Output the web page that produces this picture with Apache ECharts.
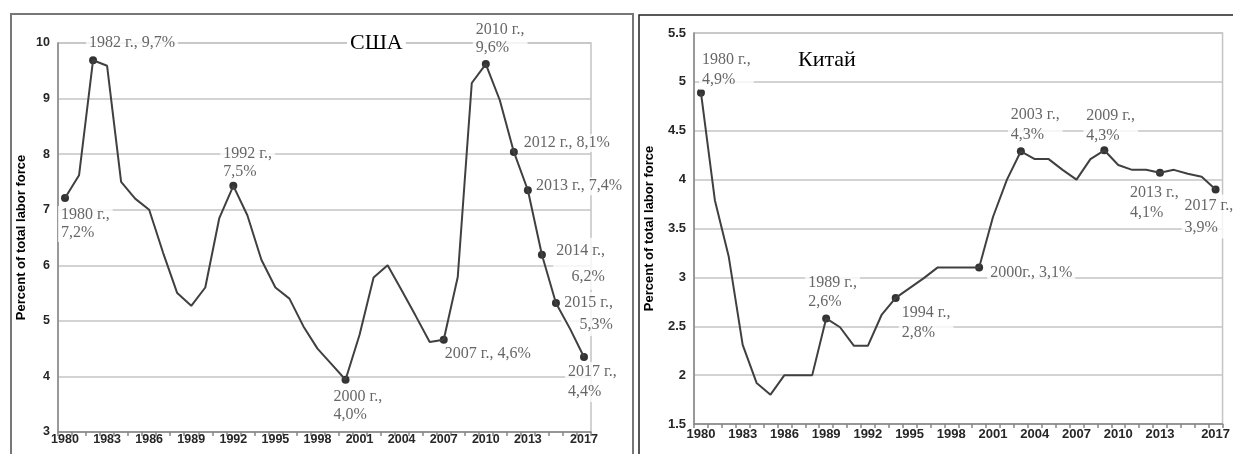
<!DOCTYPE html>
<html>
<head>
<meta charset="utf-8">
<script src="https://cdn.jsdelivr.net/npm/echarts@6/dist/echarts.min.js"></script>
<style>
  html, body { margin: 0; padding: 0; background: #fff; }
  #chart { width: 1233px; height: 454px; }
</style>
</head>
<body>
<div id="chart"></div>
<script>
// годы по оси X
const years = ['1980', '1981', '1982', '1983', '1984', '1985', '1986', '1987', '1988', '1989',
  '1990', '1991', '1992', '1993', '1994', '1995', '1996', '1997', '1998', '1999',
  '2000', '2001', '2002', '2003', '2004', '2005', '2006', '2007', '2008', '2009',
  '2010', '2011', '2012', '2013', '2014', '2015', '2016', '2017'];
// подписи оси X
const shownYears = ['1980', '1983', '1986', '1989', '1992', '1995', '1998', '2001', '2004', '2007', '2010', '2013', '2017'];

// США, % безработных
const usaRate = [7.21, 7.62, 9.69, 9.59, 7.5, 7.2, 7.0, 6.22, 5.5, 5.27,
  5.6, 6.85, 7.43, 6.9, 6.1, 5.6, 5.4, 4.9, 4.5, 4.22,
  3.94, 4.75, 5.78, 6.0, 5.55, 5.09, 4.62, 4.66, 5.79, 9.28,
  9.62, 8.97, 8.04, 7.35, 6.19, 5.32, 4.86, 4.35];
// Китай, % безработных
const chinaRate = [4.89, 3.79, 3.21, 2.31, 1.92, 1.8, 2.0, 2.0, 2.0, 2.58,
  2.49, 2.3, 2.3, 2.62, 2.79, 2.89, 2.99, 3.1, 3.1, 3.1,
  3.1, 3.62, 4.0, 4.29, 4.21, 4.21, 4.1, 4.0, 4.21, 4.3,
  4.15, 4.1, 4.1, 4.07, 4.1, 4.06, 4.03, 3.9];

// отмеченные точки
const usaNoteYears = ['1980', '1982', '1992', '2000', '2007', '2010', '2012', '2013', '2014', '2015', '2017'];
const usaNoteTexts = ['1980 г.,\n7,2%', '1982 г., 9,7%', '1992 г.,\n7,5%', '2000 г.,\n4,0%', '2007 г., 4,6%',
  '2010 г.,\n9,6%', '2012 г., 8,1%', '2013 г., 7,4%', '2014 г.,\n6,2%', '2015 г.,\n5,3%', '2017 г.,\n4,4%'];
const chinaNoteYears = ['1980', '1989', '1994', '2000', '2003', '2009', '2013', '2017'];
const chinaNoteTexts = ['1980 г.,\n4,9%', '1989 г.,\n2,6%', '1994 г.,\n2,8%', '2000г., 3,1%',
  '2003 г.,\n4,3%', '2009 г.,\n4,3%', '2013 г.,\n4,1%', '2017 г.,\n3,9%'];

// смещения подписей: [dx, dy, align, lineHeight]
const usaNotePos = {
  '1980': [-3, 12], '1982': [-3, -22], '1992': [-9, -37], '2000': [-11, 12],
  '2007': [2, 9], '2010': [-9, -39], '2012': [11, -14], '2013': [9, -9],
  '2014': [70, -13, 'right', 26], '2015': [64, -7, 'right', 22], '2017': [-15, 9, 'left', 20]
};
const chinaNotePos = {
  '1980': [2, -39, 'left', 20], '1989': [-17, -41, 'left', 19], '1994': [7, 9, 'left', 20],
  '2000': [12, 0], '2003': [-9, -42, 'left', 20], '2009': [-17, -41, 'left', 20],
  '2013': [-29, 14, 'left', 20], '2017': [-30, 9, 'left', 22]
};

const serif = "'Liberation Serif', 'Times New Roman', serif";
const sans = "'Liberation Sans', Arial, sans-serif";
const axisColor = '#868686';
const gridColor = '#c4c4c4';

function marks(noteYears, noteTexts, rates, layout) {
  return noteYears.map(function (y, i) {
    const idx = years.indexOf(y);
    const p = layout[y];
    return {
      value: [idx, rates[idx]],
      label: {
        show: true,
        formatter: noteTexts[i],
        position: [p[0], p[1]],
        align: p[2] || 'left',
        verticalAlign: 'top',
        lineHeight: p[3] || 18
      }
    };
  });
}

function xAxis(gridIndex, fontSize, margin) {
  return {
    type: 'category',
    gridIndex: gridIndex,
    data: years,
    boundaryGap: true,
    axisLine: { lineStyle: { color: axisColor, width: 1.5 } },
    axisTick: { show: true, interval: 0, length: 4, lineStyle: { color: axisColor, width: 1.5 } },
    axisLabel: {
      interval: function (index) { return shownYears.indexOf(years[index]) !== -1; },
      fontFamily: sans, fontWeight: 'bold', fontSize: fontSize, color: '#262626', margin: margin
    },
    splitLine: { show: false }
  };
}

function yAxis(gridIndex, min, max, step, fontSize, nameGap) {
  return {
    type: 'value',
    gridIndex: gridIndex,
    min: min, max: max, interval: step,
    name: 'Percent of total labor force',
    nameLocation: 'middle',
    nameGap: nameGap,
    nameTextStyle: { fontFamily: sans, fontWeight: 'bold', fontSize: 13, color: '#000' },
    axisLine: { show: true, lineStyle: { color: axisColor, width: 1.5 } },
    axisTick: { show: false },
    axisLabel: { fontFamily: sans, fontWeight: 'bold', fontSize: fontSize, color: '#262626', margin: 8 },
    splitLine: { lineStyle: { color: gridColor, width: 1.5 } }
  };
}

const chart = echarts.init(document.getElementById('chart'));
chart.setOption({
  animation: false,
  backgroundColor: '#fff',
  title: [
    {
      text: 'США', left: 347, top: 31, padding: [0, 3], backgroundColor: '#fff',
      textStyle: { fontFamily: serif, fontWeight: 'normal', fontSize: 22, lineHeight: 24, color: '#000' }
    },
    {
      text: 'Китай', left: 795, top: 48, padding: [0, 3], backgroundColor: '#fff',
      textStyle: { fontFamily: serif, fontWeight: 'normal', fontSize: 22, lineHeight: 24, color: '#000' }
    }
  ],
  graphic: [
    { type: 'rect', z: -1, shape: { x: 11, y: 14, width: 622, height: 470 },
      style: { fill: 'none', stroke: '#777', lineWidth: 2 } },
    { type: 'rect', z: -1, shape: { x: 639, y: 15, width: 620, height: 470 },
      style: { fill: 'none', stroke: '#222', lineWidth: 1.5 } }
  ],
  grid: [
    { left: 58, top: 43, width: 533, height: 389, show: true, borderColor: gridColor, borderWidth: 1.5 },
    { left: 694, top: 33, width: 533, height: 391, show: true, borderColor: gridColor, borderWidth: 1.5 }
  ],
  xAxis: [xAxis(0, 12.5, 1), xAxis(1, 13, 4)],
  yAxis: [yAxis(0, 3, 10, 1, 12.5, 30), yAxis(1, 1.5, 5.5, 0.5, 13, 38)],
  series: [
    {
      type: 'line', xAxisIndex: 0, yAxisIndex: 0, data: usaRate,
      symbol: 'none', lineStyle: { color: '#404040', width: 2 }
    },
    {
      type: 'line', xAxisIndex: 1, yAxisIndex: 1, data: chinaRate,
      symbol: 'none', lineStyle: { color: '#404040', width: 2 }
    },
    {
      type: 'scatter', xAxisIndex: 0, yAxisIndex: 0, symbolSize: 8,
      itemStyle: { color: '#000' },
      label: { fontFamily: serif, fontSize: 16, color: '#404040', backgroundColor: '#fff', padding: [0, 3] },
      data: marks(usaNoteYears, usaNoteTexts, usaRate, usaNotePos)
    },
    {
      type: 'scatter', xAxisIndex: 1, yAxisIndex: 1, symbolSize: 8,
      itemStyle: { color: '#000' },
      label: { fontFamily: serif, fontSize: 16, color: '#404040', backgroundColor: '#fff', padding: [0, 3] },
      data: marks(chinaNoteYears, chinaNoteTexts, chinaRate, chinaNotePos)
    }
  ]
});
</script>
</body>
</html>
